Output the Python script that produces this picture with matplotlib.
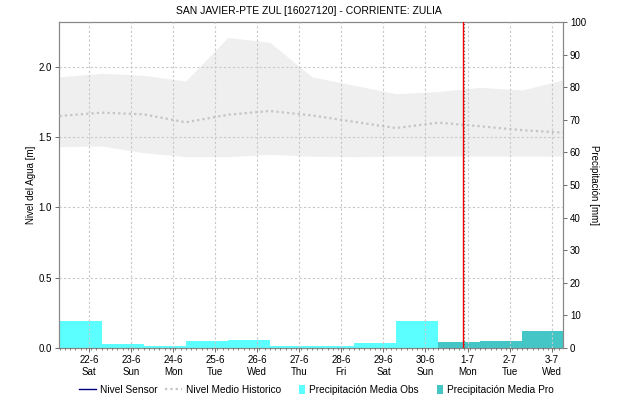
import matplotlib
matplotlib.use("Agg")
import matplotlib.pyplot as plt
import numpy as np
from matplotlib.patches import Patch, Rectangle
from matplotlib.lines import Line2D
from matplotlib.legend_handler import HandlerPatch

plt.rcParams['font.family'] = ['Liberation Sans', 'DejaVu Sans']
plt.rcParams['font.size'] = 7

title = "SAN JAVIER-PTE ZUL [16027120] - CORRIENTE: ZULIA"
dates = ["22-6", "23-6", "24-6", "25-6", "26-6", "27-6", "28-6", "29-6", "30-6", "1-7", "2-7", "3-7"]
weekdays = ["Sat", "Sun", "Mon", "Tue", "Wed", "Thu", "Fri", "Sat", "Sun", "Mon", "Tue", "Wed"]

# precipitation per day (mm)
precip_obs = [8.3, 1.2, 0.6, 2.1, 2.5, 0.6, 0.6, 1.6, 8.3]          # observed 22-6 .. 30-6
precip_pro = [1.8, 2.2, 5.3]                                        # forecast 1-7 .. 3-7

# historical band (m), at day boundaries starting before 22-6
hist_upper = [1.93, 1.955, 1.94, 1.90, 2.21, 2.175, 1.93, 1.87, 1.81, 1.825, 1.855, 1.836, 1.91]
hist_lower = [1.433, 1.437, 1.39, 1.362, 1.362, 1.378, 1.365, 1.362, 1.366, 1.366, 1.366, 1.366, 1.366]
hist_mean = [1.651, 1.675, 1.663, 1.606, 1.66, 1.687, 1.655, 1.61, 1.565, 1.604, 1.578, 1.55, 1.532]

now_day = 8.9  # current time marker (days from 22-6)

fig = plt.figure(figsize=(6.18, 4.05), dpi=100)
ax = fig.add_axes([59/618, 57/405, (563-59)/618, (348-22)/405])
ax2 = ax.twinx()

n = len(dates)
xt = np.arange(n)
offset = 0.3
band_x = np.arange(len(hist_upper)) - 1 + offset

ax.fill_between(band_x, hist_lower, hist_upper, color='#efefef', lw=0, zorder=1)
ax.plot(band_x, hist_mean, color='#c4c4c4', lw=1.6, ls=(0, (1, 1.4)), zorder=3)

# bars on precipitation axis
obs_x = np.arange(len(precip_obs)) - 1 + offset
pro_x = np.arange(len(precip_obs), len(precip_obs) + len(precip_pro)) - 1 + offset
ax2.bar(obs_x, precip_obs, width=1.0, align='edge', color='#5cffff', lw=0, zorder=2)
ax2.bar(pro_x, precip_pro, width=1.0, align='edge', color='#45c6c6', lw=0, zorder=2)

ax.set_xlim(-0.714, 11.27)
ax.set_ylim(0, 2.32)
ax2.set_ylim(0, 100)

ax.set_xticks(xt)
ax.set_xticklabels([f"{d}\n{w}" for d, w in zip(dates, weekdays)], linespacing=1.25)
ax.set_xticks(np.arange(-0.7, 11.3, 1/8), minor=True)
ax.set_yticks([0, 0.5, 1.0, 1.5, 2.0])
ax.set_yticklabels(["0.0", "0.5", "1.0", "1.5", "2.0"])
ax2.set_yticks(np.arange(0, 101, 10))

ax.grid(True, which='major', color='#c8c8c8', ls=(0, (2, 2)), lw=0.8)
ax.set_axisbelow(False)
ax.patch.set_visible(False)
ax.set_zorder(ax2.get_zorder() + 1)

ax.axvline(now_day, color='red', lw=1.0, zorder=5)
ax.axvline(now_day + 0.02, color='#555555', lw=0.8, ls=(0, (1, 2)), zorder=6)

for a in (ax, ax2):
    for s in a.spines.values():
        s.set_color('#888888')
        s.set_linewidth(0.8)
ax.tick_params(axis='both', which='major', length=3, width=0.6, color='#555555', pad=2, labelsize=7)
ax.tick_params(axis='x', which='minor', length=1.5, width=0.5, color='#555555')
ax2.tick_params(axis='y', length=3, width=0.6, color='#555555', pad=2, labelsize=7)

ax.set_ylabel("Nivel del Agua [m]", fontsize=7)
ax2.set_ylabel("Precipitación [mm]", fontsize=7, rotation=-90)
ax.yaxis.set_label_coords(-0.045, 0.5)
ax2.yaxis.set_label_coords(1.071, 0.5)

fig.text(0.5, 1 - 11/405, title, ha='center', va='center', fontsize=7.5)


class SquareHandler(HandlerPatch):
    def create_artists(self, legend, orig_handle, xdescent, ydescent, width, height, fontsize, trans):
        w = height * 0.9
        r = Rectangle((width - w - xdescent, -ydescent - 1), w, height + 2,
                      facecolor=orig_handle.get_facecolor(), edgecolor='none', transform=trans)
        return [r]


handles = [
    Line2D([], [], color='#000080', lw=1),
    Line2D([], [], color='#c4c4c4', lw=1.6, ls=(0, (1, 1.4))),
    Patch(facecolor='#5cffff', edgecolor='none'),
    Patch(facecolor='#45c6c6', edgecolor='none'),
]
labels = ["Nivel Sensor", "Nivel Medio Historico", "Precipitación Media Obs", "Precipitación Media Pro"]
fig.legend(handles, labels, loc='center', bbox_to_anchor=(0.512, 1 - 390/405), ncol=4,
           frameon=False, fontsize=7.3, handlelength=1.7, handletextpad=0.4, columnspacing=0.7,
           handler_map={Patch: SquareHandler()})

fig.savefig("out.png", dpi=100)
